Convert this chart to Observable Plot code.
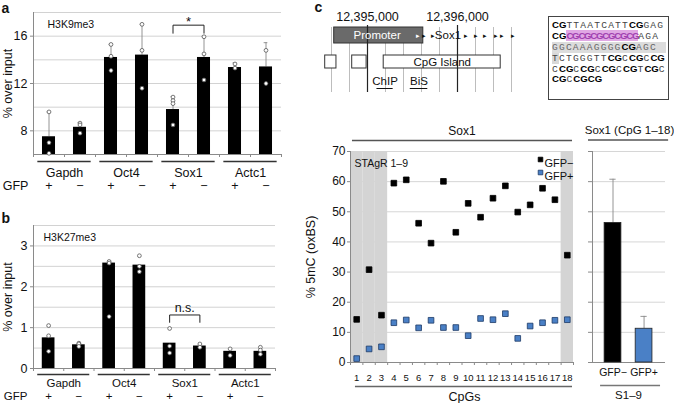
<!DOCTYPE html>
<html><head><meta charset="utf-8">
<script src="https://cdn.jsdelivr.net/npm/d3@7"></script>
<script src="https://cdn.jsdelivr.net/npm/@observablehq/plot@0.6"></script>
<style>
html,body{margin:0;padding:0;background:#fff;}
#root{position:relative;width:674px;height:403px;overflow:hidden;font-family:"Liberation Sans",Arial,sans-serif;}
#root > div{position:absolute;}
#root svg{overflow:visible;max-width:none;}
#seq{border:1px solid #444;box-sizing:border-box;padding:3px 0 0 3px;background:#fff;}
#seq .row{height:10.9px;line-height:10.9px;white-space:nowrap;font-family:"Liberation Mono",monospace;font-size:9.6px;letter-spacing:1.2px;color:#444;}
#seq b{font-family:"Liberation Sans",Arial,sans-serif;font-weight:bold;font-size:9.6px;color:#000;letter-spacing:0px;}
</style></head><body><div id="root"></div>
<script>
// ---------------- DATA ----------------
const genes = ["Gapdh", "Oct4", "Sox1", "Actc1"];
const gfpSigns = ["+", "−"];
// panel a: H3K9me3 (% over input), order Gapdh+,Gapdh-,Oct4+,Oct4-,Sox1+,Sox1-,Actc1+,Actc1-
const k9Means = [7.5, 8.3, 14.2, 14.4, 9.8, 14.2, 13.35, 13.4];
const k9ErrTop = [9.6, 8.7, 15.3, 17.0, 10.9, 16.0, 13.75, 15.45];
const k9Reps = [[9.6, 7.0, 6.1], [8.65, 8.5, 7.8], [15.3, 14.3, 13.1], [17.0, 14.8, 11.6], [10.85, 10.55, 10.3, 8.5], [15.95, 14.5, 12.3], [13.65, 13.3], [14.8, 12.0]];
const k9Ticks = [8, 12, 16];
const k9Grid = [8, 10, 12, 14, 16, 18];
// panel b: H3K27me3
const k27Means = [0.75, 0.58, 2.58, 2.53, 0.62, 0.55, 0.42, 0.42];
const k27Reps = [[1.05, 0.8, 0.42], [0.62, 0.6, 0.54], [2.62, 2.58, 1.27], [2.76, 2.5, 2.37], [0.98, 0.55, 0.38], [0.6, 0.52], [0.48, 0.32], [0.52, 0.45, 0.35]];
const k27Ticks = [0, 1, 2, 3];
const k27Grid = [0.5, 1, 1.5, 2, 2.5, 3, 3.5];
// panel c: Sox1 locus coordinates
const coordLabels = [12395000, 12396000];
const coordGrid = [12394600, 12394800, 12395200, 12395400, 12395600, 12395800, 12396200, 12396400, 12396600];
const promoter = [12394630, 12395620];
const geneArrows = [12395559, 12395633, 12395726, 12396096, 12396200, 12396303, 12396433, 12396497, 12396614];
const geneLabel = {name: "Sox1", pos: 12395894};
const smallBoxes = [[12394530, 12394655], [12394830, 12394990]];
const cpgIsland = [12395180, 12396480];
const amplicons = [{name: "ChIP", start: 12395105, end: 12395285}, {name: "BiS", start: 12395475, end: 12395670}];
const seqRows = ["CGTTAATCATTCGGAG", "CGCGCGCGCGCGCGAGA", "GGCAAAGGGGCGAGC", "TCTGGGTTCGCCGCCG", "CCGCCGCCGCCGTCGC", "CGCCGCG"];
// panel c: % 5mC (oxBS) per CpG
const cpgs = [1, 2, 3, 4, 5, 6, 7, 8, 9, 10, 11, 12, 13, 14, 15, 16, 17, 18];
const gfpNeg = [14.3, 30.8, 15.7, 59.5, 60.6, 46.2, 39.6, 60.1, 43.2, 52.8, 48.2, 54.5, 58.6, 49.9, 52.3, 57.8, 54.0, 35.6];
const gfpPos = [1.3, 4.5, 5.2, 13.2, 14.1, 11.5, 14.0, 11.6, 11.6, 8.9, 14.6, 14.2, 16.2, 8.0, 12.1, 13.2, 14.0, 14.2];
const stagrCpgs = [1, 2, 3, 18];
const mcTicks = [0, 10, 20, 30, 40, 50, 60, 70];
const seriesNames = ["GFP−", "GFP+"];
const seriesColors = ["#000000", "#4a80c6"];
const sumMeans = [46.3, 11.2];
const sumErrTop = [60.8, 15.3];

// ---------------- HELPERS ----------------
const FONT = '"Liberation Sans", Arial, Helvetica, sans-serif';
const root = document.getElementById("root");
function place(el, left, top, w, h) {
  const d = document.createElement("div");
  d.style.left = left + "px"; d.style.top = top + "px";
  d.style.width = w + "px"; d.style.height = h + "px";
  d.appendChild(el); root.appendChild(d); return d;
}
const baseStyle = {fontFamily: FONT, fontSize: "12px", background: "transparent", overflow: "visible", maxWidth: "none", color: "#111"};

function histonePanel(o) {
  const rows = [];
  genes.forEach((g, gi) => gfpSigns.forEach((s, si) => {
    const i = gi * 2 + si;
    rows.push({i, gene: g, sign: s, mean: o.means[i], err: o.err ? o.err[i] : null});
  }));
  const reps = rows.flatMap(r => o.reps[r.i].map(v => ({i: r.i, v})));
  const errRows = rows.filter(r => r.err != null);
  const groups = genes.map((g, gi) => ({gene: g, a: gi * 2, b: gi * 2 + 1}));
  const bounds = [-0.5, 0.5, 1.5, 2.5, 3.5, 4.5, 5.5, 6.5, 7.5];
  const [y0, y1] = o.yDomain;
  const s = o.sig;
  const bracket = [{x: s.a, y: s.low}, {x: s.a, y: s.high}, {x: s.b, y: s.high}, {x: s.b, y: s.low}];
  return Plot.plot({
    width: o.width, height: o.height,
    marginLeft: 33, marginRight: o.mr, marginTop: o.mt, marginBottom: o.mb,
    x: {domain: [-0.5, 7.5], axis: null},
    y: {domain: o.yDomain, axis: null},
    style: baseStyle,
    marks: [
      Plot.ruleY(o.grid, {stroke: "#d2d2d2", strokeWidth: 1}),
      Plot.ruleX([-0.5], {stroke: "#8a8a8a"}),
      Plot.ruleY([y0], {stroke: "#8a8a8a"}),
      Plot.axisY({ticks: o.ticks, tickSize: 3, tickPadding: 3, tickFormat: d => String(d), stroke: "#8a8a8a", label: null, fontSize: 12.5}),
      Plot.axisX({ticks: bounds, tickSize: 3, tickFormat: () => "", label: null, stroke: "#8a8a8a"}),
      Plot.ruleX(errRows, {x: "i", y1: "mean", y2: "err", stroke: "#888", strokeWidth: 0.9}),
      Plot.ruleY(errRows, {y: "err", x1: d => d.i - 0.06, x2: d => d.i + 0.06, stroke: "#888", strokeWidth: 0.9}),
      Plot.rect(rows, {x1: d => d.i - 0.21, x2: d => d.i + 0.21, y1: y0, y2: "mean", fill: "#000"}),
      Plot.dot(reps, {x: "i", y: "v", r: 1.9, fill: "#fff", stroke: "#555", strokeWidth: 0.8}),
      Plot.line(bracket, {x: "x", y: "y", stroke: "#222", strokeWidth: 1}),
      Plot.text([s], {x: (s.a + s.b) / 2, y: s.high, dy: s.dyText, text: "label", fontSize: s.fontSize}),
      Plot.ruleY(groups, {y: y0, x1: d => d.a - 0.36, x2: d => d.b + 0.36, dy: o.dyLine, stroke: "#333", strokeWidth: 1.4}),
      Plot.text(groups, {x: d => (d.a + d.b) / 2, y: y0, dy: o.dyGene, text: "gene", fontSize: o.rowFont}),
      Plot.text(rows, {x: "i", y: y0, dy: o.dyGfp, text: "sign", fontSize: o.rowFont}),
      Plot.text(["GFP"], {x: -0.5, y: y0, dx: -18, dy: o.dyGfp, text: d => d, fontSize: o.rowFont}),
      Plot.text([o.letter], {x: -0.5, y: y1, dx: -32, dy: o.dyLetter, textAnchor: "start", text: d => d, fontWeight: "bold", fontSize: 14}),
      Plot.text([o.markLabel], {x: -0.5, y: y1, dx: o.dxMark, dy: o.dyMark, textAnchor: "start", text: d => d, fontSize: 10.5}),
      Plot.text(["% over input"], {x: -0.5, y: (y0 + y1) / 2, dx: -26, rotate: -90, text: d => d, fontSize: 12.5})
    ]
  });
}

// ---------------- PANEL a ----------------
place(histonePanel({
  width: 290, height: 195, mr: 9, mt: 12, mb: 41,
  yDomain: [6, 18], means: k9Means, err: k9ErrTop, reps: k9Reps, ticks: k9Ticks, grid: k9Grid,
  sig: {a: 4, b: 5, low: 16.25, high: 16.93, label: "*", dyText: -3, fontSize: 13},
  dyLine: 7, dyGene: 18, dyGfp: 31, rowFont: 12.5, letter: "a", dyLetter: -4, markLabel: "H3K9me3", dxMark: 14, dyMark: 12
}), 0, 0, 290, 195);

// ---------------- PANEL b ----------------
place(histonePanel({
  width: 290, height: 208, mr: 15, mt: 30, mb: 35,
  yDomain: [0, 3.5], means: k27Means, err: null, reps: k27Reps, ticks: k27Ticks, grid: k27Grid,
  sig: {a: 4, b: 5, low: 1.13, high: 1.31, label: "n.s.", dyText: -7, fontSize: 12.5},
  dyLine: 6, dyGene: 15, dyGfp: 28, rowFont: 11.5, letter: "b", dyLetter: -7, markLabel: "H3K27me3", dxMark: 10, dyMark: 12
}), 0, 195, 290, 208);

// ---------------- PANEL c: locus diagram ----------------
const boxRows = smallBoxes.map(b => ({x1: b[0], x2: b[1]})).concat([{x1: cpgIsland[0], x2: cpgIsland[1]}]);
place(Plot.plot({
  width: 240, height: 110, marginLeft: 31, marginRight: 29, marginTop: 0, marginBottom: 0,
  x: {domain: [12394600, 12396600], axis: null},
  y: {domain: [0, 110], range: [0, 110], axis: null},
  style: baseStyle,
  marks: [
    Plot.ruleX(coordGrid, {y1: 27, y2: 92, stroke: "#bdbdbd", strokeWidth: 1}),
    Plot.rect(boxRows, {x1: "x1", x2: "x2", y1: 55, y2: 68, fill: "#fff", stroke: "#333", strokeWidth: 1}),
    Plot.rect([promoter], {x1: d => d[0], x2: d => d[1], y1: 27, y2: 43, fill: "#6a6a6a", stroke: "#333", strokeWidth: 1}),
    Plot.ruleX(coordLabels, {y1: 25, y2: 92, stroke: "#222", strokeWidth: 1.2}),
    Plot.text(coordLabels, {x: d => d, y: 16, text: d => d3.format(",")(d), fontSize: 12.5}),
    Plot.text(["Promoter"], {x: 12395107, y: 35, text: d => d, fill: "#fff", fontSize: 11.5}),
    Plot.text(geneArrows, {x: d => d, y: 35, text: () => "▸", fontSize: 7, fill: d => d < promoter[1] ? "#fff" : "#111"}),
    Plot.text([geneLabel], {x: "pos", y: 35, text: "name", fontSize: 11.5}),
    Plot.text(["CpG Island"], {x: (cpgIsland[0] + cpgIsland[1]) / 2, y: 61.5, text: d => d, fontSize: 11.5}),
    Plot.text(amplicons, {x: d => (d.start + d.end) / 2, y: 81, text: "name", fontSize: 11.5}),
    Plot.ruleY(amplicons, {y: 88, x1: "start", x2: "end", stroke: "#111", strokeWidth: 1}),
    Plot.text(["c"], {x: 12394600, y: 7, dx: -17, text: d => d, fontWeight: "bold", fontSize: 14, textAnchor: "start"})
  ]
}), 300, 0, 240, 110);

// sequence box
(function () {
  const box = document.createElement("div");
  box.id = "seq";
  box.style.width = "121px"; box.style.height = "84px";
  seqRows.forEach((row, ri) => {
    const r = document.createElement("div");
    r.className = "row";
    let html = "";
    if (ri === 1) {
      html = "<b>CG</b><span style=\"background:#e0a8e4;color:#a040b0;font-family:'Liberation Sans',Arial;font-weight:bold;font-size:9.6px;letter-spacing:-1.2px;\">" + row.slice(2, 14) + "</span>" + row.slice(14);
    } else {
      html = row.replace(/CG/g, "\u0001").split("").map(ch => ch === "\u0001" ? "<b>CG</b>" : ch).join("");
      if (ri === 3) html = "<span style='background:#d8d8d8'>" + html.charAt(0) + "</span>" + html.slice(1);
    }
    r.innerHTML = html;
    if (ri === 2) { r.style.background = "#dcdcdc"; r.style.color = "#666"; r.style.marginRight = "2px"; }
    box.appendChild(r);
  });
  place(box, 548, 16, 121, 84);
})();

// ---------------- PANEL c: CpG scatter ----------------
const pts = cpgs.flatMap((c, i) => [{c, v: gfpNeg[i], s: 0}, {c, v: gfpPos[i], s: 1}]);
const xBounds = [0.5, 1.5, 2.5, 3.5, 4.5, 5.5, 6.5, 7.5, 8.5, 9.5, 10.5, 11.5, 12.5, 13.5, 14.5, 15.5, 16.5, 17.5, 18.5];
place(Plot.plot({
  width: 280, height: 283, marginLeft: 50, marginRight: 7, marginTop: 31, marginBottom: 41,
  x: {domain: [0.5, 18.5], axis: null},
  y: {domain: [0, 70], axis: null},
  style: baseStyle,
  marks: [
    Plot.ruleY(mcTicks, {stroke: "#d6d6d6"}),
    Plot.rect(stagrCpgs, {x1: d => d - 0.5, x2: d => d + 0.5, y1: 0, y2: 70, fill: "#d4d4d4"}),
    Plot.ruleX([0.5], {stroke: "#8a8a8a"}),
    Plot.ruleY([0], {stroke: "#8a8a8a"}),
    Plot.axisY({ticks: mcTicks, tickSize: 3, tickPadding: 2, stroke: "#8a8a8a", label: null, fontSize: 12}),
    Plot.axisX({ticks: xBounds, tickSize: 3, tickFormat: () => "", label: null, stroke: "#8a8a8a"}),
    Plot.dot(pts, {x: "c", y: "v", symbol: "square", r: 3.2, fill: d => seriesColors[d.s], stroke: d => d.s ? "#1d3a66" : "#000", strokeWidth: 0.8}),
    Plot.text(cpgs, {x: d => d, y: 0, dy: 15, text: d => String(d), fontSize: 9.5}),
    Plot.ruleY([0], {x1: 0.9, x2: 18.42, dy: 24, stroke: "#666", strokeWidth: 1.6}),
    Plot.text(["CpGs"], {x: 9.7, y: 0, dy: 34, text: d => d, fontSize: 12.5}),
    Plot.text(["Sox1"], {x: 9.5, y: 70, dy: -20, text: d => d, fontSize: 12}),
    Plot.ruleY([70], {x1: 0.66, x2: 18.42, dy: -11, stroke: "#555", strokeWidth: 1.5}),
    Plot.text(["STAgR 1–9"], {x: 0.5, y: 70, dx: 4, dy: 12, textAnchor: "start", text: d => d, fontSize: 10.5}),
    ...seriesNames.map((n, i) => Plot.dot([n], {frameAnchor: "top-right", dx: -33, dy: 8 + 13 * i, symbol: "square", r: 2.6, fill: seriesColors[i], stroke: i ? "#1d3a66" : "#000", strokeWidth: 0.8})),
    ...seriesNames.map((n, i) => Plot.text([n], {frameAnchor: "top-right", dx: -29, dy: 8 + 13 * i, textAnchor: "start", text: d => d, fontSize: 11})),
    Plot.text(["% 5mC (oxBS)"], {x: 0.5, y: 35, dx: -40, rotate: -90, text: d => d, fontSize: 12.5})
  ]
}), 300, 120, 280, 283);

// ---------------- PANEL c: summary bars ----------------
const sumRows = seriesNames.map((n, i) => ({k: i + 1, label: n, mean: sumMeans[i], err: sumErrTop[i], color: seriesColors[i]}));
place(Plot.plot({
  width: 98, height: 283, marginLeft: 16, marginRight: 9, marginTop: 31, marginBottom: 41,
  x: {domain: [0.34, 2.69], axis: null},
  y: {domain: [0, 70], axis: null},
  style: baseStyle,
  marks: [
    Plot.ruleY(mcTicks, {stroke: "#d6d6d6"}),
    Plot.ruleX([0.34], {stroke: "#8a8a8a"}),
    Plot.ruleY([0], {stroke: "#8a8a8a"}),
    Plot.axisY({ticks: mcTicks, tickSize: 4, tickFormat: () => "", label: null, stroke: "#8a8a8a"}),
    Plot.ruleX(sumRows, {x: "k", y1: "mean", y2: "err", stroke: "#888", strokeWidth: 0.9}),
    Plot.ruleY(sumRows, {y: "err", x1: d => d.k - 0.1, x2: d => d.k + 0.1, stroke: "#888", strokeWidth: 0.9}),
    Plot.rect(sumRows, {x1: d => d.k - 0.27, x2: d => d.k + 0.27, y1: 0, y2: "mean", fill: "color", stroke: "#222", strokeWidth: 0.8}),
    Plot.text(sumRows, {x: "k", y: 0, dy: 10, text: "label", fontSize: 10.5}),
    Plot.ruleY([0], {x1: 0.6, x2: 2.53, dy: 23, stroke: "#777", strokeWidth: 1.5}),
    Plot.text(["S1–9"], {x: 1.5, y: 0, dy: 33, text: d => d, fontSize: 11.5}),
    Plot.text(["Sox1 (CpG 1–18)"], {x: 1.53, y: 70, dy: -21, text: d => d, fontSize: 11.5}),
    Plot.ruleY([70], {x1: 0.21, x2: 2.79, dy: -11.5, stroke: "#555", strokeWidth: 1.5})
  ]
}), 576, 120, 98, 283);
</script></body></html>
